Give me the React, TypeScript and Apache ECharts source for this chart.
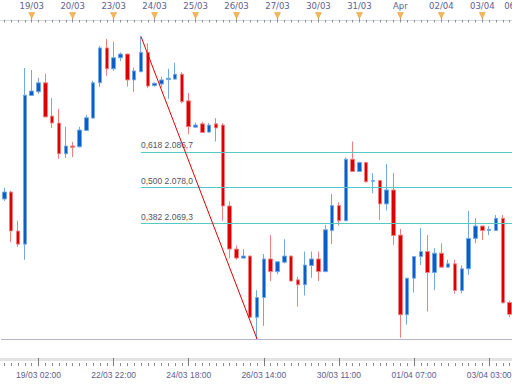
import React, { useEffect, useRef } from "react";
import * as echarts from "echarts";

const times = [
  "18/03 06:00", "18/03 10:00", "18/03 14:00", "18/03 18:00", "18/03 22:00",
  "19/03 02:00", "19/03 06:00", "19/03 10:00", "19/03 14:00", "19/03 18:00", "19/03 22:00",
  "20/03 02:00", "20/03 06:00", "20/03 10:00", "20/03 14:00", "20/03 18:00",
  "22/03 22:00",
  "23/03 02:00", "23/03 06:00", "23/03 10:00", "23/03 14:00", "23/03 18:00", "23/03 22:00",
  "24/03 02:00", "24/03 06:00", "24/03 10:00", "24/03 14:00", "24/03 18:00", "24/03 22:00",
  "25/03 02:00", "25/03 06:00", "25/03 10:00", "25/03 14:00", "25/03 18:00", "25/03 22:00",
  "26/03 02:00", "26/03 06:00", "26/03 10:00", "26/03 14:00", "26/03 18:00", "26/03 22:00",
  "27/03 02:00", "27/03 06:00", "27/03 10:00", "27/03 14:00", "27/03 18:00",
  "29/03 23:00",
  "30/03 03:00", "30/03 07:00", "30/03 11:00", "30/03 15:00", "30/03 19:00", "30/03 23:00",
  "31/03 03:00", "31/03 07:00", "31/03 11:00", "31/03 15:00", "31/03 19:00", "31/03 23:00",
  "01/04 03:00", "01/04 07:00", "01/04 11:00", "01/04 15:00", "01/04 19:00", "01/04 23:00",
  "02/04 03:00", "02/04 07:00", "02/04 11:00", "02/04 15:00", "02/04 19:00", "02/04 23:00",
  "03/04 03:00", "03/04 07:00", "03/04 11:00", "03/04 15:00",
  "05/04 23:00",
];

// [open, close, low, high]
const candles = [
  [2075.2, 2076.9, 2074.7, 2077.9],
  [2076.9, 2067.4, 2064.7, 2077.2],
  [2067.4, 2064.2, 2063.5, 2069.9],
  [2064.2, 2100.5, 2060.4, 2107.1],
  [2100.4, 2101.5, 2100.3, 2106.6],
  [2101.3, 2103.5, 2100.8, 2104.7],
  [2103.5, 2095.2, 2095.1, 2105.7],
  [2095.4, 2093.7, 2092.5, 2099.8],
  [2093.7, 2086.2, 2085.0, 2097.1],
  [2086.2, 2088.1, 2085.2, 2092.8],
  [2088.1, 2087.8, 2085.4, 2089.1],
  [2087.9, 2092.0, 2087.8, 2092.8],
  [2091.9, 2095.0, 2091.8, 2095.7],
  [2094.9, 2103.5, 2094.8, 2104.0],
  [2103.5, 2112.0, 2102.5, 2112.5],
  [2112.0, 2106.9, 2105.2, 2114.2],
  [2106.9, 2109.6, 2106.4, 2113.5],
  [2109.6, 2110.5, 2108.8, 2110.9],
  [2110.5, 2104.2, 2102.6, 2110.6],
  [2104.2, 2106.4, 2101.3, 2107.2],
  [2106.2, 2110.9, 2106.1, 2114.8],
  [2110.9, 2102.7, 2102.2, 2113.1],
  [2102.8, 2103.4, 2102.6, 2103.6],
  [2103.2, 2104.2, 2102.4, 2105.0],
  [2104.3, 2104.6, 2099.6, 2106.9],
  [2104.4, 2105.6, 2104.2, 2108.4],
  [2105.6, 2098.9, 2098.5, 2106.1],
  [2099.1, 2092.8, 2091.0, 2101.0],
  [2092.7, 2093.2, 2092.6, 2093.8],
  [2093.5, 2091.4, 2091.3, 2094.0],
  [2091.5, 2093.2, 2091.3, 2093.7],
  [2093.5, 2092.5, 2089.2, 2094.9],
  [2093.2, 2073.5, 2069.9, 2093.7],
  [2073.5, 2063.0, 2060.8, 2074.6],
  [2063.0, 2060.8, 2060.4, 2063.8],
  [2060.8, 2061.3, 2060.7, 2063.0],
  [2061.3, 2046.4, 2046.2, 2061.4],
  [2046.4, 2051.2, 2041.1, 2053.0],
  [2051.2, 2060.6, 2044.3, 2061.8],
  [2060.6, 2057.5, 2055.2, 2066.4],
  [2057.5, 2059.9, 2056.9, 2060.1],
  [2059.8, 2061.3, 2059.5, 2065.4],
  [2061.3, 2055.2, 2055.1, 2061.4],
  [2055.5, 2054.3, 2049.0, 2056.3],
  [2054.3, 2059.1, 2051.7, 2062.4],
  [2059.0, 2060.6, 2056.0, 2062.4],
  [2060.6, 2057.5, 2055.2, 2062.4],
  [2057.5, 2067.7, 2057.4, 2068.9],
  [2067.5, 2073.6, 2064.2, 2076.4],
  [2073.6, 2069.9, 2068.7, 2074.4],
  [2069.9, 2084.9, 2069.8, 2085.3],
  [2084.9, 2081.9, 2081.8, 2089.2],
  [2081.9, 2084.1, 2081.8, 2084.3],
  [2084.1, 2079.4, 2079.2, 2084.2],
  [2079.5, 2079.7, 2076.6, 2081.5],
  [2079.7, 2074.0, 2070.1, 2079.8],
  [2074.0, 2077.4, 2072.4, 2083.7],
  [2077.4, 2066.3, 2064.0, 2081.5],
  [2066.4, 2047.0, 2041.4, 2067.9],
  [2047.0, 2055.9, 2044.6, 2056.0],
  [2055.9, 2061.2, 2052.4, 2061.3],
  [2061.2, 2062.4, 2059.1, 2068.1],
  [2062.4, 2057.3, 2047.8, 2066.4],
  [2057.3, 2062.0, 2053.0, 2063.2],
  [2062.0, 2058.6, 2058.4, 2064.4],
  [2058.6, 2059.4, 2058.5, 2060.4],
  [2059.4, 2052.9, 2052.1, 2060.4],
  [2052.9, 2058.2, 2052.2, 2059.0],
  [2058.2, 2065.6, 2056.7, 2072.3],
  [2065.6, 2068.6, 2064.4, 2070.5],
  [2068.6, 2067.5, 2065.2, 2068.7],
  [2067.5, 2067.8, 2066.4, 2068.6],
  [2067.5, 2070.5, 2067.4, 2071.3],
  [2070.5, 2049.9, 2049.8, 2071.3],
  [2050.0, 2047.1, 2046.4, 2050.4],
];

const bottomLabels = [
  "19/03 02:00", "22/03 22:00", "24/03 18:00", "26/03 14:00",
  "30/03 11:00", "01/04 07:00", "03/04 03:00",
];

const dayStarts = [
  "18/03 22:00", "19/03 22:00", "22/03 22:00", "23/03 22:00", "24/03 22:00",
  "25/03 22:00", "26/03 22:00", "29/03 23:00", "30/03 23:00", "31/03 23:00",
  "01/04 23:00", "02/04 23:00", "05/04 23:00",
];
const dayLabels = [
  "19/03", "20/03", "23/03", "24/03", "25/03", "26/03", "27/03",
  "30/03", "31/03", "Apr", "02/04", "03/04", "06/04",
];

const fibLevels = [2069.3, 2078.0, 2086.7];
const fibLabels = ["0,382 2.069,3", "0,500 2.078,0", "0,618 2.086,7"];

const swingHigh = 20;
const swingLow = 37;

export default function App() {
  const ref = useRef<HTMLDivElement>(null);

  useEffect(() => {
    if (!ref.current) return;
    const chart = echarts.init(ref.current, null, { renderer: "svg" });
    const slot = 6.827;
    const gridWidth = times.length * slot;
    const labelColor = "#5e5e8e";

    const catBase = {
      type: "category",
      data: times,
      boundaryGap: true,
      splitLine: { show: false },
    };

    const lowVal = candles[swingLow][2];
    const highVal = candles[swingHigh][3];

    const option: any = {
      animation: false,
      backgroundColor: "#ffffff",
      grid: [
        { left: 1, top: 20, width: gridWidth, height: 339.5, outerBoundsMode: "none", containLabel: false },
        { left: 1, top: 12.5, width: gridWidth, height: 7.5, outerBoundsMode: "none", containLabel: false },
      ],
      xAxis: [
        {
          ...catBase,
          gridIndex: 0,
          position: "bottom",
          axisLine: { show: true, lineStyle: { color: "#e3e3e3", width: 3 } },
          axisTick: { show: false },
          axisLabel: { show: false },
        },
        {
          ...catBase,
          gridIndex: 0,
          position: "bottom",
          offset: 6.5,
          axisLine: { show: false },
          axisTick: {
            show: true, inside: true, length: 3, alignWithLabel: true, interval: 0,
            lineStyle: { color: "#8c8c8c" },
          },
          axisLabel: { show: false },
        },
        {
          ...catBase,
          gridIndex: 0,
          position: "bottom",
          offset: 6.5,
          axisLine: { show: false },
          axisTick: {
            show: true, inside: true, length: 8, alignWithLabel: true,
            interval: (i: number, v: string) => bottomLabels.includes(v),
            lineStyle: { color: "#7a7a7a" },
          },
          axisLabel: {
            show: true,
            interval: (i: number, v: string) => bottomLabels.includes(v),
            color: labelColor,
            fontSize: 8.5,
            fontFamily: "Liberation Sans",
            margin: 4,
          },
        },
        {
          ...catBase,
          gridIndex: 1,
          position: "top",
          axisLine: { show: true, lineStyle: { color: "#9c9c9c", width: 1 } },
          axisTick: {
            show: true, inside: true, length: 2.5, alignWithLabel: true, interval: 0,
            lineStyle: { color: "#8c8c8c" },
          },
          axisLabel: {
            show: true,
            interval: (i: number, v: string) => dayStarts.includes(v),
            formatter: (v: string) => dayLabels[dayStarts.indexOf(v)] ?? "",
            color: labelColor,
            fontSize: 8.5,
            fontFamily: "DejaVu Sans",
            margin: 2,
          },
        },
        {
          ...catBase,
          gridIndex: 1,
          position: "bottom",
          axisLine: { show: true, lineStyle: { color: "#d3d8e6", width: 1 } },
          axisTick: {
            show: true, inside: true, length: 2, alignWithLabel: true,
            interval: (i: number, v: string) => dayStarts.includes(v),
            lineStyle: { color: "#b0a080" },
          },
          axisLabel: { show: false },
        },
      ],
      yAxis: [
        { type: "value", gridIndex: 0, min: 2036.1, max: 2118.8, show: false, splitLine: { show: false } },
        { type: "value", gridIndex: 1, min: 0, max: 1, show: false, splitLine: { show: false } },
      ],
      series: [
        {
          type: "candlestick",
          xAxisIndex: 0,
          yAxisIndex: 0,
          data: candles,
          barWidth: 4,
          itemStyle: {
            color: "#0a5ec6",
            color0: "#de0000",
            borderColor: "#72a8e6",
            borderColor0: "#f08080",
            borderWidth: 1,
          },
          markLine: {
            silent: true,
            symbol: ["none", "none"],
            animation: false,
            label: {
              show: true,
              position: "insideStartTop",
              color: "#555555",
              fontSize: 8.5,
              fontFamily: "Liberation Sans",
              distance: [0, 2],
            },
            lineStyle: { type: "solid", color: "#55c8c8", width: 1 },
            data: [
              ...fibLevels.map((lv, k) => [
                { coord: [times[swingHigh], lv], label: { formatter: fibLabels[k] } },
                { coord: [times[times.length - 1], lv] },
              ]),
              {
                yAxis: lowVal,
                label: { show: false },
                lineStyle: { type: "solid", color: "#b4b4cc", width: 1 },
              },
            ],
          },
        },
        {
          type: "line",
          xAxisIndex: 0,
          yAxisIndex: 0,
          data: [
            [times[swingHigh], highVal],
            [times[swingLow], lowVal],
          ],
          symbol: "rect",
          symbolSize: 5,
          lineStyle: { color: "#e00000", width: 1 },
          itemStyle: { color: "#e00000", borderColor: "#5a5a7a", borderWidth: 1 },
          z: 5,
        },
        {
          type: "scatter",
          xAxisIndex: 3,
          yAxisIndex: 1,
          data: dayStarts.map((d) => [d, 0.6]),
          symbol: "triangle",
          symbolRotate: 180,
          symbolSize: [6, 6],
          itemStyle: { color: "#f3a532", borderColor: "#dc8c14", borderWidth: 0.5 },
          z: 5,
        },
      ],
    };

    chart.setOption(option);
    return () => chart.dispose();
  }, []);

  return (
    <div
      ref={ref}
      style={{ position: "absolute", left: 0, top: 0, width: 512, height: 384 }}
    />
  );
}
